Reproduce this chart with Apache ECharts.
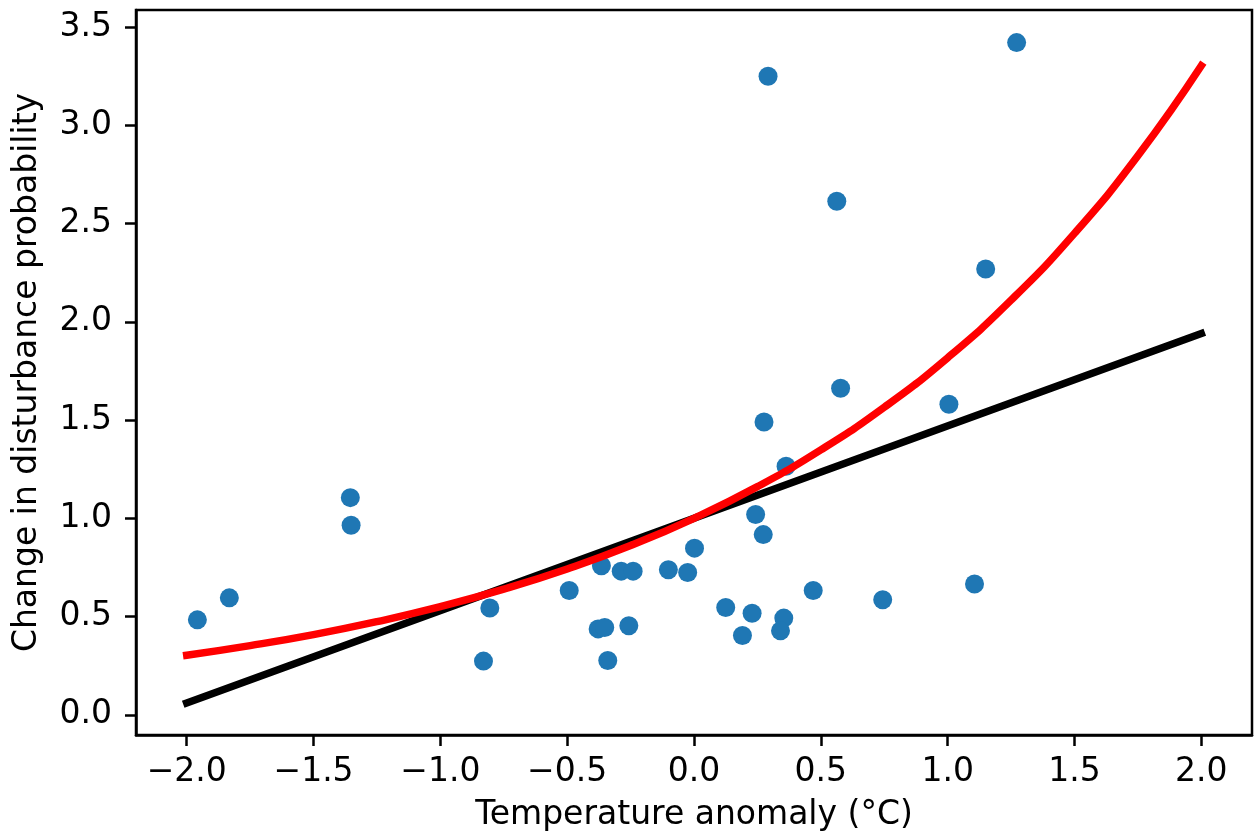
<!DOCTYPE html>
<html>
<head>
<meta charset="utf-8">
<script src="https://cdn.jsdelivr.net/npm/echarts@6/dist/echarts.min.js"></script>
<style>html,body{margin:0;padding:0;background:#fff}#c{width:1254px;height:840px}</style>
</head>
<body>
<div id="c"></div>
<script>
// Observed points: temperature anomaly (x) and change in disturbance probability (y)
const pointX = [-1.958, -1.832, -1.355, -1.352, -0.805, -0.830,
  -0.492, -0.365, -0.287, -0.240, -0.101, -0.025, 0.002, -0.378, -0.352, -0.257, -0.340,
  0.125, 0.229, 0.191, 0.354, 0.341, 0.470, 0.243, 0.273,
  0.292, 1.272, 0.563, 1.150, 0.578, 0.276, 1.005, 0.363,
  0.744, 1.106];
const pointY = [0.483, 0.595, 1.105, 0.965, 0.543, 0.273,
  0.632, 0.758, 0.731, 0.731, 0.738, 0.724, 0.848, 0.437, 0.444, 0.453, 0.276,
  0.546, 0.517, 0.403, 0.492, 0.427, 0.632, 1.019, 0.917,
  3.250, 3.421, 2.614, 2.269, 1.662, 1.490, 1.580, 1.265,
  0.585, 0.666];

// Linear fit (black), endpoints
const linearX = [-2, 2];
const linearY = [0.06, 1.94];

// Exponential fit (red)
const curveX = [-2, -1.75, -1.5, -1.25, -1, -0.75, -0.5, -0.25, 0, 0.25, 0.5, 0.75, 1, 1.25, 1.5, 1.75, 2];
const curveY = [0.303, 0.352, 0.408, 0.474, 0.550, 0.639, 0.742, 0.861, 1.000, 1.161, 1.348, 1.565, 1.817, 2.110, 2.450, 2.845, 3.303];

// Tick labels
const xTicks = [-2.0, -1.5, -1.0, -0.5, 0.0, 0.5, 1.0, 1.5, 2.0];
const yTicks = [0.0, 0.5, 1.0, 1.5, 2.0, 2.5, 3.0, 3.5];

const zip = (a, b) => a.map((v, i) => [v, b[i]]);
const fmt = v => (v < 0 ? '\u2212' : '') + Math.abs(v).toFixed(1);
const FONT = 'DejaVu Sans';
const FS = 33;

const chart = echarts.init(document.getElementById('c'), null, {renderer: 'canvas'});
chart.setOption({
  animation: false,
  backgroundColor: '#fff',
  grid: {left: 136, right: 2, top: 10, bottom: 105, show: true, borderColor: '#000', borderWidth: 2.5, backgroundColor: 'transparent'},
  xAxis: {
    type: 'value', min: -2.2, max: 2.2,
    name: 'Temperature anomaly (\u00b0C)', nameLocation: 'middle', nameGap: 64,
    nameTextStyle: {fontFamily: FONT, fontSize: FS, color: '#000'},
    axisLine: {show: true, onZero: false, lineStyle: {color: '#000', width: 2.5}},
    axisTick: {show: true, customValues: xTicks, length: 11, lineStyle: {color: '#000', width: 2.5}},
    axisLabel: {customValues: xTicks, formatter: fmt, margin: 21, fontFamily: FONT, fontSize: FS, color: '#000'},
    splitLine: {show: false}
  },
  yAxis: {
    type: 'value', min: -0.103, max: 3.587,
    name: 'Change in disturbance probability', nameLocation: 'middle', nameGap: 92,
    nameTextStyle: {fontFamily: FONT, fontSize: FS, color: '#000'},
    axisLine: {show: true, onZero: false, lineStyle: {color: '#000', width: 2.5}},
    axisTick: {show: true, customValues: yTicks, length: 11, lineStyle: {color: '#000', width: 2.5}},
    axisLabel: {customValues: yTicks, formatter: fmt, margin: 24, fontFamily: FONT, fontSize: FS, color: '#000'},
    splitLine: {show: false}
  },
  series: [
    {type: 'scatter', data: zip(pointX, pointY), symbol: 'circle', symbolSize: 19, itemStyle: {color: '#1f77b4', opacity: 1}, z: 2},
    {type: 'line', data: zip(linearX, linearY), showSymbol: false, symbol: 'none', lineStyle: {color: '#000', width: 7.5, cap: 'square'}, z: 3},
    {type: 'line', data: zip(curveX, curveY), showSymbol: false, symbol: 'none', smooth: 0.5, lineStyle: {color: '#ff0000', width: 7.5, cap: 'square'}, z: 4}
  ]
});
</script>
</body>
</html>
